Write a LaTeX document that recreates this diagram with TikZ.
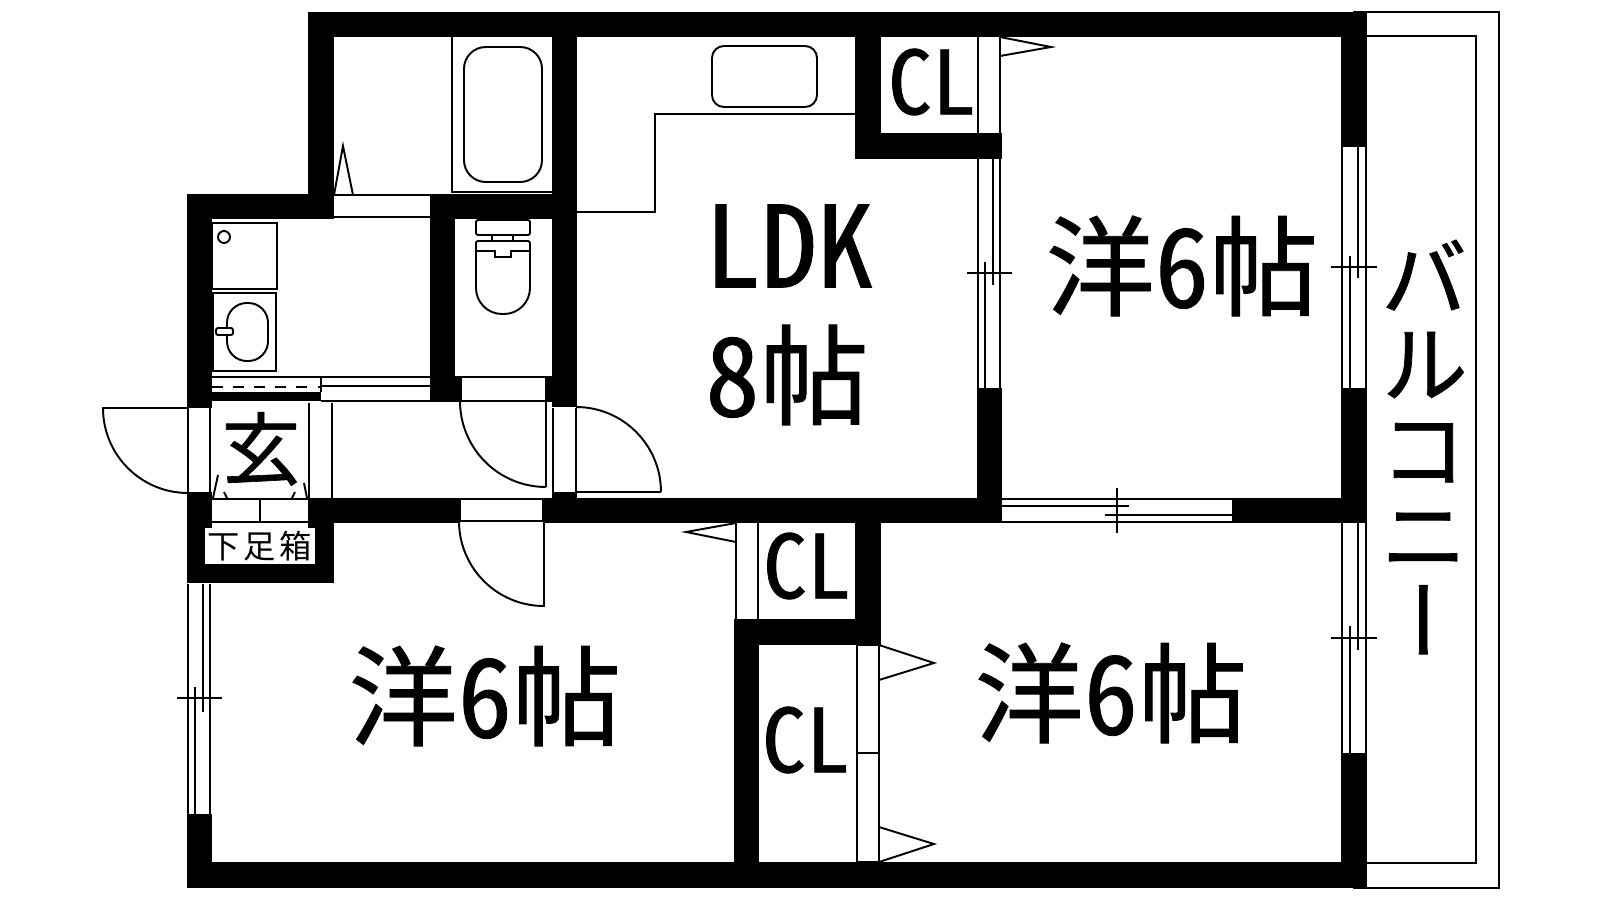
\documentclass[tikz,border=0pt]{standalone}
\usepackage{fontspec}
\newfontfamily\jpfont[RawFeature=+hwid,FakeBold=0.8]{Noto Sans CJK JP}
\newfontfamily\jpthin[RawFeature=+hwid]{Noto Sans CJK JP}
\newfontfamily\jpvert[RawFeature=+vert,FakeBold=0.8]{Noto Sans CJK JP}
\tikzset{
    wall/.style={fill=black},
    thinline/.style={draw=black,line width=0.55pt},
    roomtext/.style={inner sep=0pt,font=\jpfont\fontsize{31}{34}\selectfont},
    cltext/.style={inner sep=0pt,font=\jpfont\fontsize{25}{28}\selectfont},
}
\begin{document}
\begin{tikzpicture}[x=0.01cm,y=-0.01cm]
        \useasboundingbox (0,0) rectangle (1600,900);
        % walls
        \fill [wall] (308,12) rectangle (1367,37);
        \fill [wall] (308,12) rectangle (334,219);
        \fill [wall] (187,194) rectangle (334,219);
        \fill [wall] (187,194) rectangle (212,408);
        \fill [wall] (212,392) rectangle (321,401);
        \fill [wall] (430,194) rectangle (455,402);
        \fill [wall] (430,194) rectangle (577,219);
        \fill [wall] (552,12) rectangle (577,407);
        \fill [wall] (455,376) rectangle (462,402);
        \fill [wall] (545,376) rectangle (552,402);
        \fill [wall] (552,492) rectangle (577,498);
        \fill [wall] (187,492) rectangle (212,583);
        \fill [wall] (187,564) rectangle (334,583);
        \fill [wall] (308,498) rectangle (334,583);
        \fill [wall] (308,498) rectangle (460,523);
        \fill [wall] (543,498) rectangle (1002,523);
        \fill [wall] (977,388) rectangle (1002,523);
        \fill [wall] (855,37) rectangle (881,159);
        \fill [wall] (855,133) rectangle (1002,159);
        \fill [wall] (1232,498) rectangle (1367,523);
        \fill [wall] (1341,12) rectangle (1367,147);
        \fill [wall] (1341,388) rectangle (1367,523);
        \fill [wall] (1341,753) rectangle (1367,888);
        \fill [wall] (855,523) rectangle (881,645);
        \fill [wall] (734,619) rectangle (881,645);
        \fill [wall] (734,619) rectangle (759,888);
        \fill [wall] (187,862) rectangle (1367,888);
        \fill [wall] (187,814) rectangle (212,888);
        % balcony
        \draw [thinline] (1353,12) -- (1499,12) -- (1499,888) -- (1353,888);
        \draw [thinline] (1367,36) -- (1476,36) -- (1476,863) -- (1367,863);
        % bath
        \draw [thinline] (452,37) -- (452,192) -- (552,192);
        \draw [thinline,rounded corners=6.2pt] (464,47) rectangle (542,182);
        \draw [thinline] (334,195) -- (343,146) -- (353,195);
        \draw [thinline] (334,195) -- (430,195);
        \draw [thinline] (334,217) -- (430,217);
        % kitchen
        \draw [thinline] (577,212) -- (655,212) -- (655,114) -- (855,114);
        \draw [thinline,rounded corners=3.4pt] (712,46) rectangle (817,107);
        % washroom
        \draw [thinline] (212,223) rectangle (277,289);
        \draw [thinline] (224,237) circle (6);
        \draw [thinline] (213,293) rectangle (276,371);
        \draw [thinline,rounded corners=5.6pt] (227,303) rectangle (268,361);
        \draw [thinline,fill=white,rounded corners=0.6pt] (216,328) rectangle (233,335);
        \draw [thinline] (212,377) -- (430,377);
        \draw [thinline,dashed] (212,387) -- (321,387);
        \draw [thinline] (321,386) -- (430,386);
        \draw [thinline] (321,401) -- (430,401);
        \draw [thinline] (321,377) -- (321,392);
        % toilet
        \draw [thinline,rounded corners=0.6pt] (476,220) rectangle (530,235);
        \draw [thinline] (492,235) rectangle (513,241);
        \draw [thinline,rounded corners=7.4pt] (476,280) -- (476,314) -- (530,314) -- (530,280);
        \draw [thinline,rounded corners=0.6pt] (476,280) -- (476,241) -- (530,241) -- (530,280);
        \draw [thinline] (476,251) -- (495,251) -- (495,257) -- (511,257) -- (511,251) -- (530,251);
        \draw [thinline] (462,377) -- (545,377);
        \draw [thinline] (460,401) -- (546,401) -- (546,487);
        \draw [thinline] (460,401) arc [start angle=180,end angle=90,radius=86];
        % entrance
        \draw [thinline] (188,408) -- (188,492);
        \draw [thinline] (210,408) -- (210,492);
        \draw [thinline] (188,408) -- (103,408) arc [start angle=180,end angle=90,radius=85];
        \draw [thinline] (309,403) -- (309,498);
        \draw [thinline] (332,403) -- (332,498);
        \draw [thinline] (212,499) -- (308,499);
        \draw [thinline] (212,522) -- (308,522);
        \draw [thinline] (260,499) -- (260,522);
        \draw [thinline] (218,475) -- (213,498);
        \draw [thinline] (224,492) -- (227,498);
        \draw [thinline] (295,492) -- (292,498);
        \draw [thinline] (304,483) -- (307,498);
        % doors to the rooms
        \draw [thinline] (553,408) -- (553,492);
        \draw [thinline] (576,408) -- (576,492) -- (661,492);
        \draw [thinline] (576,407) arc [start angle=-90,end angle=0,radius=85];
        \draw [thinline] (460,499) -- (543,499);
        \draw [thinline] (460,499) -- (460,521);
        \draw [thinline] (543,499) -- (543,521);
        \draw [thinline] (459,521) -- (544,521) -- (544,607);
        \draw [thinline] (459,521) arc [start angle=180,end angle=90,radius=85];
        % closets
        \draw [thinline] (978,37) -- (978,133);
        \draw [thinline] (1000,37) -- (1000,133);
        \draw [thinline] (1000,37) -- (1051,47) -- (1000,56);
        \draw [thinline] (736,523) -- (736,619);
        \draw [thinline] (758,523) -- (758,619);
        \draw [thinline] (736,523) -- (686,532) -- (736,542);
        \draw [thinline] (857,645) rectangle (879,862);
        \draw [thinline] (857,753) -- (879,753);
        \draw [thinline] (879,645) -- (934,663) -- (879,680);
        \draw [thinline] (879,827) -- (934,844) -- (879,862);
        % windows
        \draw [thinline] (978,159) -- (978,388);
        \draw [thinline] (1000,159) -- (1000,388);
        \draw [thinline] (993,159) -- (993,285);
        \draw [thinline] (985,262) -- (985,388);
        \draw [thinline] (967,273) -- (1012,273);
        \draw [thinline] (1342,147) -- (1342,388);
        \draw [thinline] (1366,147) -- (1366,388);
        \draw [thinline] (1358,147) -- (1358,278);
        \draw [thinline] (1350,256) -- (1350,388);
        \draw [thinline] (1331,267) -- (1377,267);
        \draw [thinline] (1342,523) -- (1342,753);
        \draw [thinline] (1366,523) -- (1366,753);
        \draw [thinline] (1358,523) -- (1358,650);
        \draw [thinline] (1350,626) -- (1350,753);
        \draw [thinline] (1331,638) -- (1377,638);
        \draw [thinline] (1002,499) -- (1232,499);
        \draw [thinline] (1002,522) -- (1232,522);
        \draw [thinline] (1002,506) -- (1129,506);
        \draw [thinline] (1105,515) -- (1232,515);
        \draw [thinline] (1117,488) -- (1117,533);
        \draw [thinline] (188,584) -- (188,814);
        \draw [thinline] (210,584) -- (210,814);
        \draw [thinline] (203,584) -- (203,712);
        \draw [thinline] (195,687) -- (195,814);
        \draw [thinline] (177,698) -- (222,698);
        % labels
        \node [roomtext,font=\jpfont\fontsize{32}{36}\selectfont] (ldk) at (789,246) {LDK};
        \node [roomtext] (ldksize) at (787,375) {8帖};
        \node [roomtext] (room1) at (1182,266) {洋6帖};
        \node [roomtext] (room2) at (485,696) {洋6帖};
        \node [roomtext] (room3) at (1111,693) {洋6帖};
        \node [cltext] (cl1) at (932,82) {CL};
        \node [cltext] (cl2) at (807,566) {CL};
        \node [cltext] (cl3) at (806,740) {CL};
        \node [inner sep=0pt,font=\jpfont\fontsize{22.5}{24}\selectfont] (entry) at (261,449) {玄};
        \node [inner sep=0pt,fill=white,minimum width=1.10cm,minimum height=0.36cm,font=\jpthin\fontsize{9.2}{10}\selectfont] (shoebox) at (260,546) {下\hspace{1pt}足\hspace{1pt}箱};
        \node [inner sep=0pt,align=center,font=\jpvert\fontsize{25}{24.4}\selectfont] (balcony) at (1424,447) {バ\\ル\\コ\\ニ\\ー};
    \end{tikzpicture}
\end{document}
